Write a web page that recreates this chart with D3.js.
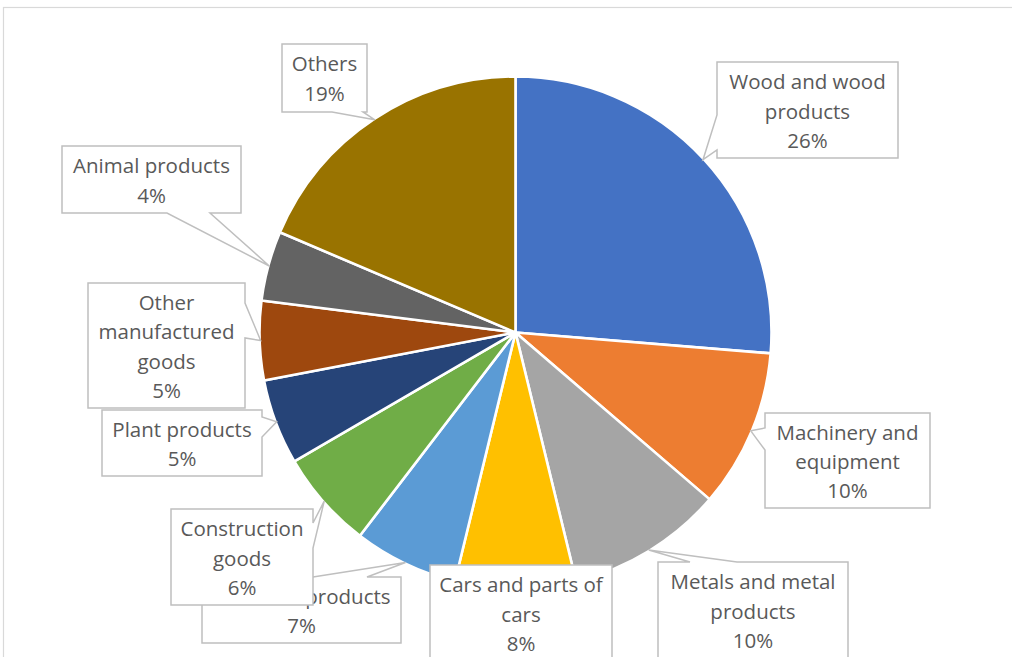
<!DOCTYPE html>
<html>
<head>
<meta charset="utf-8">
<script src="https://cdn.jsdelivr.net/npm/d3@7"></script>
<style>
  html, body { margin: 0; padding: 0; background: #ffffff; }
  svg { display: block; }
</style>
</head>
<body>
<svg id="chart" width="1012" height="657"></svg>
<script>
// Export structure by product group, share of total (%)
const categories = [
  "Wood and wood products",
  "Machinery and equipment",
  "Metals and metal products",
  "Cars and parts of cars",
  "Chemical products",
  "Construction goods",
  "Plant products",
  "Other manufactured goods",
  "Animal products",
  "Others"
];
const shares = [26.3, 10.0, 9.9, 7.6, 6.6, 6.2, 5.4, 5.0, 4.4, 18.6];
const sliceColors = [
  "#4472C4", "#ED7D31", "#A5A5A5", "#FFC000", "#5B9BD5",
  "#70AD47", "#264478", "#9E480E", "#636363", "#997300"
];
// Wrapped label text for each slice
const labelLines = [
  ["Wood and wood", "products"],
  ["Machinery and", "equipment"],
  ["Metals and metal", "products"],
  ["Cars and parts of", "cars"],
  ["Chemical products"],
  ["Construction", "goods"],
  ["Plant products"],
  ["Other", "manufactured", "goods"],
  ["Animal products"],
  ["Others"]
];

// Callout boxes: [x0, y0, x1, y1], side of the pointer wedge and its base span
const calloutLayout = [
  { box: [717, 62, 898, 158],  side: "left",   base: [115, 150] },
  { box: [765, 413, 930, 508], side: "left",   base: [428, 450] },
  { box: [658, 562, 848, 668], side: "top",    base: [690, 737] },
  { box: [430, 565, 612, 668], side: "none",   base: null },
  { box: [202, 577, 401, 643], side: "top",    base: [313, 367] },
  { box: [171, 509, 313, 605], side: "right",  base: [523, 548] },
  { box: [102, 410, 262, 476], side: "right",  base: [417, 437] },
  { box: [88, 283, 245, 408],  side: "right",  base: [303, 338] },
  { box: [62, 146, 241, 213],  side: "bottom", base: [167, 210] },
  { box: [282, 44, 367, 112],  side: "bottom", base: [332, 363] }
];

const svg = d3.select("#chart");
const W = 1012, H = 657;
const cx = 515.5, cy = 332.5, R = 255;

// Chart area frame
svg.append("rect")
  .attr("x", 3.5).attr("y", 7.5)
  .attr("width", W + 10).attr("height", H + 10)
  .attr("fill", "#ffffff")
  .attr("stroke", "#D9D9D9")
  .attr("stroke-width", 1.2);

const total = d3.sum(shares);
const data = categories.map((c, i) => ({ name: c, value: shares[i], i }));

const pie = d3.pie().value(d => d.value).sort(null);
const arcs = pie(data);
const arc = d3.arc().innerRadius(0).outerRadius(R + 1);

const g = svg.append("g").attr("transform", `translate(${cx},${cy})`);
g.selectAll("path.slice")
  .data(arcs)
  .join("path")
  .attr("class", "slice")
  .attr("d", arc)
  .attr("fill", d => sliceColors[d.data.i])
  .attr("stroke", "#ffffff")
  .attr("stroke-width", 2.6)
  .attr("stroke-linejoin", "round");

// Pointer tip: the slice's outer edge at its mid angle
function tipPoint(a) {
  const m = (a.startAngle + a.endAngle) / 2;
  return [cx + R * Math.sin(m), cy - R * Math.cos(m)];
}

function calloutPath(layout, tip) {
  const [x0, y0, x1, y1] = layout.box;
  const s = layout.side, b = layout.base;
  const pts = [[x0, y0]];
  if (s === "top") pts.push([b[0], y0], tip, [b[1], y0]);
  pts.push([x1, y0]);
  if (s === "right") pts.push([x1, b[0]], tip, [x1, b[1]]);
  pts.push([x1, y1]);
  if (s === "bottom") pts.push([b[1], y1], tip, [b[0], y1]);
  pts.push([x0, y1]);
  if (s === "left") pts.push([x0, b[1]], tip, [x0, b[0]]);
  return "M" + pts.map(p => p[0] + "," + p[1]).join("L") + "Z";
}

const pct = d3.format(".0%");
const lineGap = 29.4;
const labels = svg.append("g");

arcs.forEach(a => {
  const i = a.data.i;
  const layout = calloutLayout[i];
  const lg = labels.append("g");
  lg.append("path")
    .attr("d", calloutPath(layout, tipPoint(a)))
    .attr("fill", "#ffffff")
    .attr("stroke", "#BFBFBF")
    .attr("stroke-width", 1.5)
    .attr("stroke-linejoin", "miter");

  const lines = labelLines[i].concat([pct(a.data.value / total)]);
  const [x0, y0, x1, y1] = layout.box;
  const bx = (x0 + x1) / 2;
  // boxes that run past the bottom edge keep their text anchored to the top
  const by = (y0 + Math.min(y1, y0 + lines.length * lineGap + 8)) / 2 + 1;
  const n = lines.length;
  lg.selectAll("text")
    .data(lines)
    .join("text")
    .attr("x", bx)
    .attr("y", (d, k) => by + (k - (n - 1) / 2) * lineGap + 7.5)
    .attr("text-anchor", "middle")
    .attr("font-family", "'Open Sans', 'Noto Sans', sans-serif")
    .attr("font-size", 20.5)
    .attr("fill", "#595959")
    .text(d => d);
});
</script>
</body>
</html>
